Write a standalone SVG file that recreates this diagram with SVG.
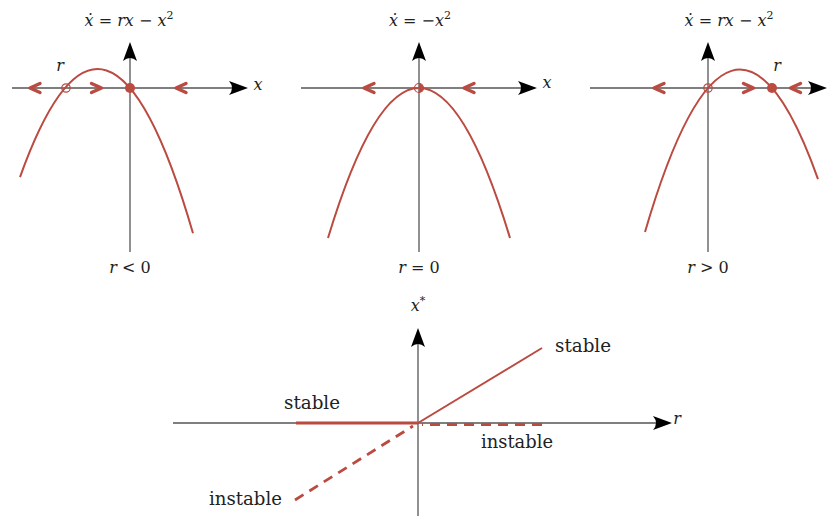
<svg xmlns="http://www.w3.org/2000/svg" xmlns:xlink="http://www.w3.org/1999/xlink" width="832" height="516" viewBox="0 0 832 516">
<style>
.axis{stroke:#555;stroke-width:1.3;fill:none}
.curve{stroke:#bb4a40;stroke-width:2;fill:none}
.chev{stroke:#bb4a40;stroke-width:3.4;fill:none;stroke-linecap:round;stroke-linejoin:round}
.dash{stroke:#bb4a40;stroke-width:2.8;fill:none;stroke-dasharray:10 7}
text{font-family:'DejaVu Serif',serif;fill:#222}
.m{font-size:16px}
.i{font-style:italic}
</style>
<defs>
<path id="ah" d="M0,0 L-19,-7 Q-13,0 -19,7 Z" fill="#000"/>
<path id="chl" d="M5,-4.5 L-5,0 L5,4.5"/>
<path id="chr" d="M-5,-4.5 L5,0 L-5,4.5"/>
</defs>

<g id="panel1">
<line class="axis" x1="12" y1="88" x2="240" y2="88"/>
<line class="axis" x1="130" y1="252" x2="130" y2="50"/>
<use xlink:href="#ah" transform="translate(248,88)"/>
<use xlink:href="#ah" transform="translate(130,42) rotate(-90)"/>
<path class="curve" d="M20,177.1 Q106.5,-64.2 193,233.2"/>
<use xlink:href="#chl" class="chev" transform="translate(35,88)"/>
<use xlink:href="#chr" class="chev" transform="translate(96.5,88)"/>
<use xlink:href="#chl" class="chev" transform="translate(181,88)"/>
<circle cx="66" cy="88" r="4.2" fill="none" stroke="#bb4a40" stroke-width="1.2"/>
<circle cx="130" cy="88" r="5" fill="#bb4a40"/>
<text class="m i" x="60" y="71" text-anchor="middle">r</text>
<text class="m i" x="258" y="90" text-anchor="middle">x</text>
<text class="m" x="129" y="26" text-anchor="middle"><tspan class="i">ẋ</tspan> = <tspan class="i">rx</tspan> − <tspan class="i">x</tspan><tspan font-size="11" dy="-7">2</tspan></text>
<text class="m" x="130" y="273" text-anchor="middle"><tspan class="i">r</tspan> &lt; 0</text>
</g>

<g id="panel2">
<line class="axis" x1="301" y1="88" x2="529" y2="88"/>
<line class="axis" x1="419" y1="252" x2="419" y2="50"/>
<use xlink:href="#ah" transform="translate(537,88)"/>
<use xlink:href="#ah" transform="translate(419,42) rotate(-90)"/>
<path class="curve" d="M328,238 Q419,-62 510,238"/>
<use xlink:href="#chl" class="chev" transform="translate(369,88)"/>
<use xlink:href="#chl" class="chev" transform="translate(469,88)"/>
<circle cx="419" cy="88" r="4.5" fill="none" stroke="#bb4a40" stroke-width="1.2"/>
<path d="M419,83.5 A4.5,4.5 0 0 1 419,92.5 Z" fill="#bb4a40"/>
<text class="m i" x="547" y="88" text-anchor="middle">x</text>
<text class="m" x="420" y="26" text-anchor="middle"><tspan class="i">ẋ</tspan> = −<tspan class="i">x</tspan><tspan font-size="11" dy="-7">2</tspan></text>
<text class="m" x="419" y="273" text-anchor="middle"><tspan class="i">r</tspan> = 0</text>
</g>

<g id="panel3">
<line class="axis" x1="590" y1="88" x2="819" y2="88"/>
<line class="axis" x1="708" y1="252" x2="708" y2="50"/>
<use xlink:href="#ah" transform="translate(827,88)"/>
<use xlink:href="#ah" transform="translate(708,42) rotate(-90)"/>
<path class="curve" d="M645,232 Q731.5,-63.8 818,179.1"/>
<use xlink:href="#chl" class="chev" transform="translate(659,88)"/>
<use xlink:href="#chr" class="chev" transform="translate(748.5,88)"/>
<use xlink:href="#chl" class="chev" transform="translate(795.5,88)"/>
<circle cx="708" cy="88" r="4.2" fill="none" stroke="#bb4a40" stroke-width="1.2"/>
<circle cx="772" cy="88" r="5" fill="#bb4a40"/>
<text class="m i" x="777" y="71" text-anchor="middle">r</text>
<text class="m" x="729" y="26" text-anchor="middle"><tspan class="i">ẋ</tspan> = <tspan class="i">rx</tspan> − <tspan class="i">x</tspan><tspan font-size="11" dy="-7">2</tspan></text>
<text class="m" x="708" y="273" text-anchor="middle"><tspan class="i">r</tspan> &gt; 0</text>
</g>

<g id="bifurcation">
<line class="axis" x1="173" y1="423" x2="664" y2="423"/>
<line class="axis" x1="418" y1="516" x2="418" y2="336"/>
<use xlink:href="#ah" transform="translate(672,423)"/>
<use xlink:href="#ah" transform="translate(418,328) rotate(-90)"/>
<line x1="296" y1="423" x2="418" y2="423" stroke="#bb4a40" stroke-width="2.8"/>
<line class="curve" x1="418" y1="423" x2="542" y2="348"/>
<line class="dash" x1="542" y1="424.5" x2="422" y2="424.5"/>
<line class="dash" x1="295" y1="500" x2="413" y2="426"/>
<text class="m i" x="418" y="311" text-anchor="middle">x<tspan font-size="11" dy="-7" font-style="normal">*</tspan></text>
<text class="m i" x="677" y="424" text-anchor="middle">r</text>
<text x="555" y="352" font-size="18" textLength="56" lengthAdjust="spacingAndGlyphs">stable</text>
<text x="284" y="409" font-size="18" textLength="56" lengthAdjust="spacingAndGlyphs">stable</text>
<text x="481" y="448" font-size="18" textLength="72" lengthAdjust="spacingAndGlyphs">instable</text>
<text x="209" y="505" font-size="18" textLength="73" lengthAdjust="spacingAndGlyphs">instable</text>
</g>
</svg>
